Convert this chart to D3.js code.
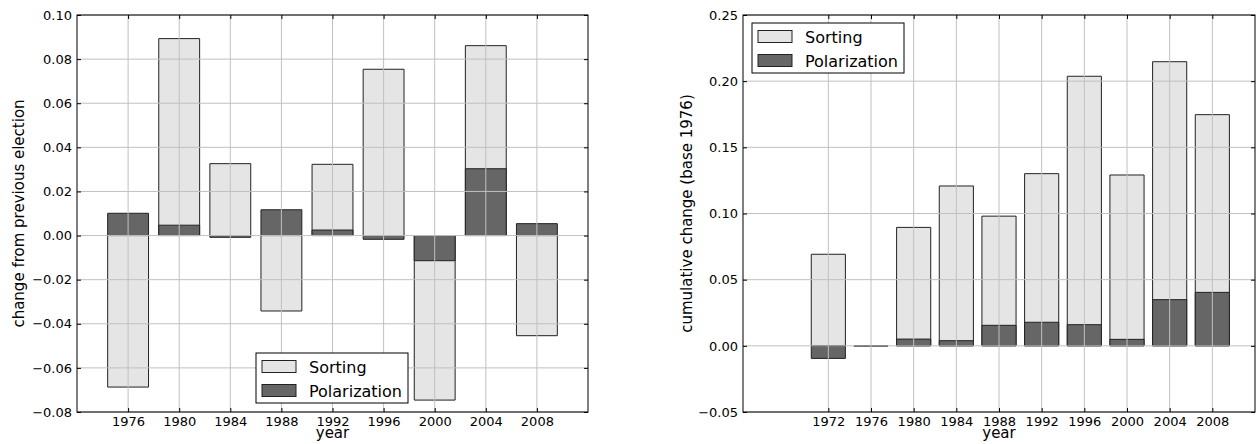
<!DOCTYPE html>
<html>
<head>
<meta charset="utf-8">
<script src="https://cdn.jsdelivr.net/npm/d3@7"></script>
<style>
    body { margin: 0; background: #fff; }
    svg { font-family: 'DejaVu Sans', sans-serif; }
    .grid line { stroke: #c0c0c0; stroke-width: 1; }
</style>
</head>
<body>
<div id="vis"></div>
<script>
'use strict';

// left panel: change from previous election
var changeYears = [1976, 1980, 1984, 1988, 1992, 1996, 2000, 2004, 2008];
var changeSorting = [-0.0687, 0.0893, 0.0326, -0.0342, 0.0323, 0.0754, -0.0746, 0.0861, -0.0454];
var changePolarization = [0.0101, 0.0047, -0.0008, 0.0117, 0.0025, -0.0017, -0.0114, 0.0303, 0.0054];
var changeTicks = [-0.08, -0.06, -0.04, -0.02, 0.00, 0.02, 0.04, 0.06, 0.08, 0.10];

// right panel: cumulative change (base 1976)
var cumYears = [1972, 1976, 1980, 1984, 1988, 1992, 1996, 2000, 2004, 2008];
var cumSorting = [0.0692, 0, 0.0895, 0.1208, 0.0980, 0.1301, 0.2037, 0.1291, 0.2147, 0.1747];
var cumPolarization = [-0.0095, 0, 0.0051, 0.0039, 0.0155, 0.0178, 0.0160, 0.0049, 0.0349, 0.0404];
var cumTicks = [-0.05, 0.00, 0.05, 0.10, 0.15, 0.20, 0.25];

var seriesNames = ['Sorting', 'Polarization'];
var seriesColors = ['#e5e5e5', '#666666'];

var svg = d3.select('#vis')
    .append('svg')
    .attr('width', 1260)
    .attr('height', 444);

var fmt = d3.format('.2f');

function barPath(x, y, year, v) {
    //path instead of rect so a zero bar still shows its edge
    var x0 = x(year - 1.6), x1 = x(year + 1.6);
    var y0 = y(0), y1 = y(v);
    return 'M' + x0 + ',' + y0 + 'H' + x1 + 'V' + y1 + 'H' + x0 + 'Z';
}

function drawPanel(opt) {
    var x = d3.scaleLinear().domain(opt.xDomain).range([opt.left, opt.right]);
    var y = d3.scaleLinear().domain(opt.yDomain).range([opt.bottom, opt.top]);
    var g = svg.append('g');

    //bars: sorting first, polarization on top
    [opt.sorting, opt.polarization].forEach(function (vals, k) {
        g.append('g').selectAll('path')
            .data(opt.years)
            .enter().append('path')
            .attr('d', function (d, i) { return barPath(x, y, d, vals[i]); })
            .attr('fill', seriesColors[k])
            .attr('stroke', '#222')
            .attr('stroke-width', 1);
    });

    //grid drawn over the bars
    var grid = g.append('g').attr('class', 'grid');
    grid.selectAll('line.v')
        .data(opt.years)
        .enter().append('line')
        .attr('x1', function (d) { return x(d); })
        .attr('x2', function (d) { return x(d); })
        .attr('y1', opt.top)
        .attr('y2', opt.bottom);
    grid.selectAll('line.h')
        .data(opt.yTicks)
        .enter().append('line')
        .attr('x1', opt.left)
        .attr('x2', opt.right)
        .attr('y1', function (d) { return y(d); })
        .attr('y2', function (d) { return y(d); });

    //axes with inward ticks on all four sides
    var xb = d3.axisBottom(x).tickValues(opt.years).tickFormat(d3.format('d')).tickSizeInner(-4).tickSizeOuter(0).tickPadding(5);
    var xt = d3.axisTop(x).tickValues(opt.years).tickFormat('').tickSizeInner(-4).tickSizeOuter(0);
    var yl = d3.axisLeft(y).tickValues(opt.yTicks).tickFormat(fmt).tickSizeInner(-4).tickSizeOuter(0).tickPadding(5);
    var yr = d3.axisRight(y).tickValues(opt.yTicks).tickFormat('').tickSizeInner(-4).tickSizeOuter(0);

    [[xb, 'translate(0,' + opt.bottom + ')'], [xt, 'translate(0,' + opt.top + ')'],
     [yl, 'translate(' + opt.left + ',0)'], [yr, 'translate(' + opt.right + ',0)']].forEach(function (a) {
        var ag = g.append('g').attr('transform', a[1]).call(a[0]);
        ag.select('.domain').remove();
        ag.selectAll('line').attr('stroke', '#000');
        ag.selectAll('text').attr('font-size', 13).attr('fill', '#000').attr('font-family', 'DejaVu Sans');
    });

    //frame
    g.append('rect')
        .attr('x', opt.left).attr('y', opt.top)
        .attr('width', opt.right - opt.left).attr('height', opt.bottom - opt.top)
        .attr('fill', 'none').attr('stroke', '#000').attr('stroke-width', 1);

    //axis labels
    g.append('text')
        .attr('x', (opt.left + opt.right) / 2)
        .attr('y', 438)
        .attr('text-anchor', 'middle')
        .attr('font-size', 15)
        .text('year');
    g.append('text')
        .attr('transform', 'translate(' + opt.yLabelX + ',' + (opt.top + opt.bottom) / 2 + ') rotate(-90)')
        .attr('text-anchor', 'middle')
        .attr('font-size', 15)
        .text(opt.yLabel);

    //legend
    var lg = g.append('g').attr('transform', 'translate(' + opt.legendX + ',' + opt.legendY + ')');
    lg.append('rect')
        .attr('width', 152).attr('height', 50)
        .attr('fill', '#fff').attr('stroke', '#000').attr('stroke-width', 1);
    seriesNames.forEach(function (name, k) {
        lg.append('rect')
            .attr('x', 6).attr('y', 7.5 + k * 24)
            .attr('width', 34).attr('height', 12)
            .attr('fill', seriesColors[k]).attr('stroke', '#222');
        lg.append('text')
            .attr('x', 53).attr('y', 19.5 + k * 24)
            .attr('font-size', 16)
            .text(name);
    });
}

drawPanel({
    years: changeYears, sorting: changeSorting, polarization: changePolarization,
    xDomain: [1972, 2012], yDomain: [-0.08, 0.10], yTicks: changeTicks,
    left: 77, right: 588, top: 15, bottom: 412,
    yLabel: 'change from previous election', yLabelX: 24,
    legendX: 256, legendY: 353
});

drawPanel({
    years: cumYears, sorting: cumSorting, polarization: cumPolarization,
    xDomain: [1964, 2012], yDomain: [-0.05, 0.25], yTicks: cumTicks,
    left: 743, right: 1255, top: 15, bottom: 412,
    yLabel: 'cumulative change (base 1976)', yLabelX: 692,
    legendX: 752, legendY: 23
});
</script>
</body>
</html>
